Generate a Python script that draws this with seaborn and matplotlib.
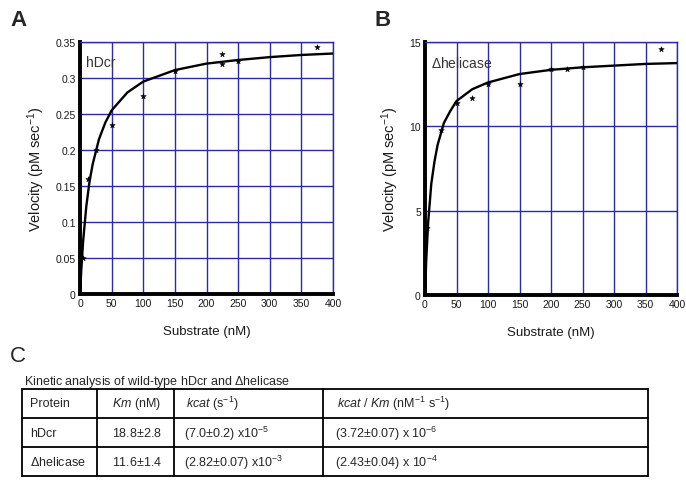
import numpy as np
import pandas as pd
import seaborn as sns
import matplotlib.pyplot as plt

# panel A - hDcr
a_substrate = [5, 12.5, 25, 50, 100, 150, 225, 225, 250, 375]
a_velocity = [0.05, 0.16, 0.20, 0.235, 0.275, 0.31, 0.333, 0.32, 0.323, 0.343]
# fitted curve
a_fit_x = [0, 2, 5, 10, 15, 20, 30, 40, 50, 75, 100, 150, 200, 250, 300, 350, 400]
a_fit_y = [0, 0.033, 0.074, 0.122, 0.156, 0.18, 0.215, 0.238, 0.255, 0.28, 0.295,
           0.311, 0.320, 0.325, 0.329, 0.332, 0.334]

# panel B - delta helicase
b_substrate = [3, 25, 50, 75, 100, 150, 200, 225, 250, 375]
b_velocity = [4.0, 9.8, 11.4, 11.7, 12.5, 12.5, 13.4, 13.4, 13.5, 14.6]
b_fit_x = [0, 2, 5, 10, 15, 20, 30, 40, 50, 75, 100, 150, 200, 250, 300, 350, 400]
b_fit_y = [0, 2.1, 4.3, 6.6, 7.9, 8.9, 10.2, 10.9, 11.5, 12.2, 12.6, 13.1, 13.35,
           13.5, 13.6, 13.7, 13.75]

x_ticks = [0, 50, 100, 150, 200, 250, 300, 350, 400]
a_yticks = [0, 0.05, 0.1, 0.15, 0.2, 0.25, 0.3, 0.35]
a_ylabels = ['0', '0.05', '0.1', '0.15', '0.2', '0.25', '0.3', '0.35']
b_yticks = [0, 5, 10, 15]
b_ylabels = ['0', '5', '10', '15']

# table C
col_labels = ['Protein', '$\\mathit{Km}$ (nM)', '$\\mathit{kcat}$ (s$^{-1}$)',
              '$\\mathit{kcat}$ / $\\mathit{Km}$ (nM$^{-1}$ s$^{-1}$)']
proteins = ['hDcr', '$\\Delta$helicase']
km_vals = ['18.8$\\pm$2.8', '11.6$\\pm$1.4']
kcat_vals = ['(7.0$\\pm$0.2) x10$^{-5}$', '(2.82$\\pm$0.07) x10$^{-3}$']
eff_vals = ['(3.72$\\pm$0.07) x 10$^{-6}$', '(2.43$\\pm$0.04) x 10$^{-4}$']

sns.set_style('white')
plt.rcParams['font.family'] = ['Liberation Sans', 'DejaVu Sans']
plt.rcParams['mathtext.fontset'] = 'custom'
plt.rcParams['mathtext.rm'] = 'Liberation Sans'
plt.rcParams['mathtext.it'] = 'Liberation Sans:italic'

grid_c = '#2b2ba8'
txt_c = '#1a1a1a'

fig = plt.figure(figsize=(6.86, 4.81), dpi=100)
axA = fig.add_axes([80/686, 1-295/481, 253/686, 252/481])
axB = fig.add_axes([425/686, 1-296/481, 252/686, 253/481])


def panel(ax, sx, sy, fx, fy, yticks, ylabels, ymax, name):
    dpts = pd.DataFrame({'S': sx, 'V': sy})
    dfit = pd.DataFrame({'S': fx, 'V': fy})
    sns.lineplot(data=dfit, x='S', y='V', ax=ax, color='black', linewidth=1.7,
                 zorder=3)
    sns.scatterplot(data=dpts, x='S', y='V', ax=ax, color='black', marker='*',
                    s=16, edgecolor='black', linewidth=0.4, zorder=4)
    ax.set_xlim(0, 400)
    ax.set_ylim(0, ymax)
    ax.set_xticks(x_ticks)
    ax.set_xticklabels([str(t) for t in x_ticks])
    ax.set_yticks(yticks)
    ax.set_yticklabels(ylabels)
    ax.grid(True, color=grid_c, linewidth=1.0)
    ax.set_axisbelow(True)
    for s in ['top', 'right']:
        ax.spines[s].set_color(grid_c)
        ax.spines[s].set_linewidth(1.0)
    for s in ['left', 'bottom']:
        ax.spines[s].set_color('black')
        ax.spines[s].set_linewidth(2.8)
    ax.tick_params(axis='both', length=0, pad=3, labelsize=7.5, colors=txt_c)
    ax.set_xlabel('Substrate (nM)', fontsize=9.5, labelpad=12, color=txt_c)
    ax.set_ylabel('Velocity (pM sec$^{-1}$)', fontsize=10.5, labelpad=6,
                  color=txt_c)
    ax.text(0.025, 0.95, name, transform=ax.transAxes, fontsize=10,
            va='top', ha='left', color='#333333')


panel(axA, a_substrate, a_velocity, a_fit_x, a_fit_y, a_yticks, a_ylabels,
      0.35, 'hDcr')
panel(axB, b_substrate, b_velocity, b_fit_x, b_fit_y, b_yticks, b_ylabels,
      15, '$\\Delta$helicase')

fig.text(10/686, 1-21/481, 'A', fontsize=16, fontweight='bold', va='center')
fig.text(375/686, 1-21/481, 'B', fontsize=16, fontweight='bold', va='center')
fig.text(10/686, 1-357/481, 'C', fontsize=16, va='center')

# table drawn in pixel coordinates
tab = fig.add_axes([0, 0, 1, 1])
tab.set_xlim(0, 686)
tab.set_ylim(481, 0)
tab.axis('off')
tab.text(24, 382, 'Kinetic analysis of wild-type hDcr and $\\Delta$helicase',
         fontsize=9, va='center', ha='left')
row_y = [390, 419, 448, 477]
col_x = [22, 97, 174, 323, 648]
for y in row_y:
    tab.plot([col_x[0], col_x[-1]], [y, y], color='black', linewidth=1.3)
for x in col_x:
    tab.plot([x, x], [row_y[0], row_y[-1]], color='black', linewidth=1.3)
text_x = [30, 112, 186, 337]
for i, lab in enumerate(col_labels):
    tab.text(text_x[i], 404, lab, fontsize=9, va='center', ha='left')
rows = [proteins, km_vals, kcat_vals, eff_vals]
val_x = [30, 112, 184, 335]
for r in range(2):
    for c in range(4):
        tab.text(val_x[c], 434 + 29 * r, rows[c][r], fontsize=9, va='center',
                 ha='left')

fig.savefig('out.png', dpi=100)
